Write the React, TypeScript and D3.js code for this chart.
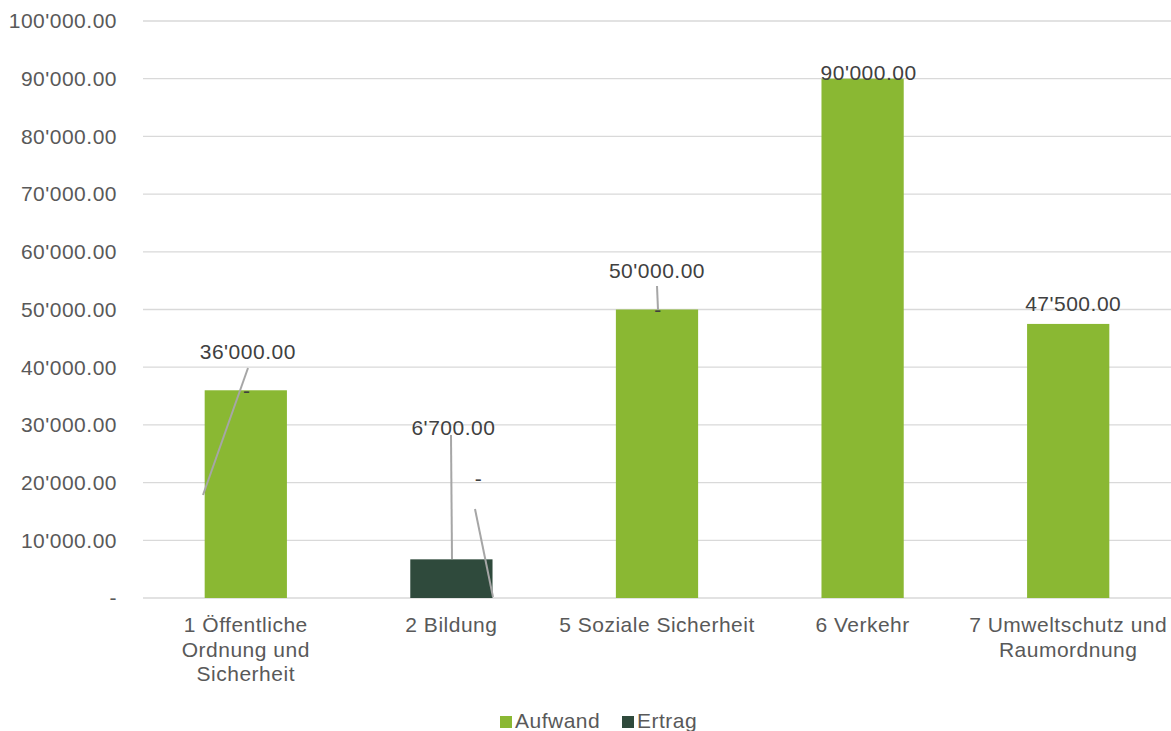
import React from "react";
import * as d3 from "d3";

const categories = [
  ["1 Öffentliche", "Ordnung und", "Sicherheit"],
  ["2 Bildung"],
  ["5 Soziale Sicherheit"],
  ["6 Verkehr"],
  ["7 Umweltschutz und", "Raumordnung"],
];
const aufwand = [36000, 0, 50000, 90000, 47500];
const ertrag = [0, 6700, 0, 0, 0];
const yTicks = [0, 10000, 20000, 30000, 40000, 50000, 60000, 70000, 80000, 90000, 100000];
const seriesNames = ["Aufwand", "Ertrag"];
const colors = ["#8AB833", "#2F4A3C"];

const W = 1171, H = 731;
const FONT = "'Liberation Sans', Arial, sans-serif";
const FS = 21;
const LS = 0.5;

function fmt(v: number) {
  if (v === 0) return "-";
  const s = d3.format(",.2f")(v);
  return s.replace(/,/g, "'");
}

export default function App() {
  const x = d3.scaleBand<number>().domain(d3.range(categories.length)).range([143, 1171]).paddingInner(0.6).paddingOuter(0.3);
  const y = d3.scaleLinear().domain([0, 100000]).range([598, 21]);
  const bw = x.bandwidth();

  // label offsets (relative to the segment top) as placed in the reference
  const aufLabel = [
    { dx: 2, dy: -31, leader: [[248, 368], [203, 495]] },
    { dx: 27, dy: -112, leader: [[475, 509], [493, 597]] },
    { dx: 0, dy: -32, leader: [[657, 286], [658, 310]] },
    { dx: 6, dy: 1, leader: null },
    { dx: 5, dy: -13, leader: null },
  ];
  const ertLabel = [
    { dx: 1, dy: 0, leader: null },
    { dx: 2, dy: -132, leader: [[451, 435], [452, 559]] },
    { dx: 1, dy: 0, leader: null },
    { dx: 0, dy: 0, leader: null },
    { dx: 0, dy: 0, leader: null },
  ];

  return (
    <svg width={W} height={H} style={{ display: "block", position: "absolute", left: 0, top: 0 }} fontFamily={FONT} letterSpacing={LS}>
      <rect width={W} height={H} fill="#fff" />
      {yTicks.map((t) => (
        <g key={t}>
          <line x1={143} x2={1171} y1={y(t)} y2={y(t)} stroke="#D9D9D9" strokeWidth={1.3} />
          <text x={117} y={y(t)} dy="0.35em" textAnchor="end" fontSize={FS} fill="#595959">
            {fmt(t)}
          </text>
        </g>
      ))}
      {categories.map((c, i) => {
        const x0 = x(i)!;
        const a = aufwand[i], e = ertrag[i];
        return (
          <g key={i}>
            {a > 0 && <rect x={x0} width={bw} y={y(a)} height={y(0) - y(a)} fill={colors[0]} />}
            {e > 0 && <rect x={x0} width={bw} y={y(a + e)} height={y(a) - y(a + e)} fill={colors[1]} />}
          </g>
        );
      })}
      {categories.map((c, i) => {
        const cx = x(i)! + bw / 2;
        const a = aufwand[i], e = ertrag[i];
        const al = aufLabel[i], el = ertLabel[i];
        const ay = y(a) + al.dy;
        const ey = y(a + e) + el.dy;
        return (
          <g key={"l" + i}>
            {al.leader && <line x1={al.leader[0][0]} y1={al.leader[0][1]} x2={al.leader[1][0]} y2={al.leader[1][1]} stroke="#A6A6A6" strokeWidth={2} />}
            {el.leader && <line x1={el.leader[0][0]} y1={el.leader[0][1]} x2={el.leader[1][0]} y2={el.leader[1][1]} stroke="#A6A6A6" strokeWidth={2} />}
            <text x={cx + al.dx} y={ay} textAnchor="middle" fontSize={FS} fill="#404040">{fmt(a)}</text>
            {!(i === 3 || i === 4) && (
              <text x={cx + el.dx} y={ey} dy="0.35em" textAnchor="middle" fontSize={FS} fill="#404040">{fmt(e)}</text>
            )}
          </g>
        );
      })}
      {categories.map((lines, i) => (
        <text key={"c" + i} x={x(i)! + bw / 2} y={632} textAnchor="middle" fontSize={FS} fill="#595959">
          {lines.map((l, j) => (
            <tspan key={j} x={x(i)! + bw / 2} dy={j === 0 ? 0 : 24.5}>{l}</tspan>
          ))}
        </text>
      ))}
      {seriesNames.map((s, i) => {
        const lx = [500, 622][i];
        return (
          <g key={s}>
            <rect x={lx} y={716} width={12} height={12} fill={colors[i]} />
            <text x={lx + 15} y={728} fontSize={FS} fill="#595959">{s}</text>
          </g>
        );
      })}
    </svg>
  );
}
